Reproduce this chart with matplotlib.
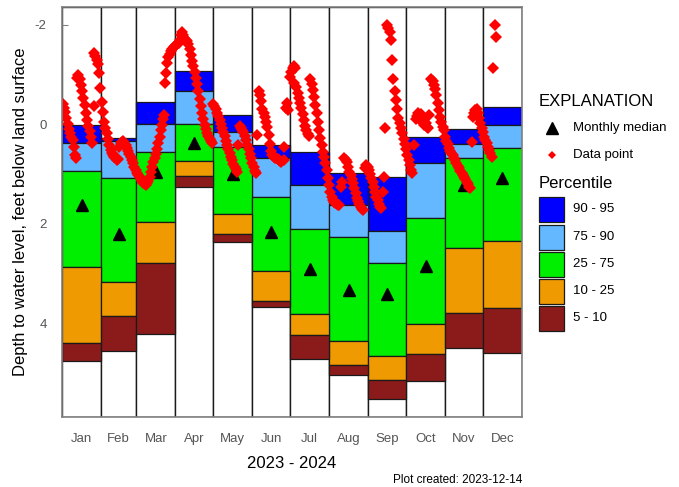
import matplotlib.pyplot as plt
import numpy as np

plt.rcParams['font.family'] = ['Liberation Sans', 'DejaVu Sans']

months = ['Jan', 'Feb', 'Mar', 'Apr', 'May', 'Jun',
          'Jul', 'Aug', 'Sep', 'Oct', 'Nov', 'Dec']
month_days = [31, 28, 31, 30, 31, 30, 31, 31, 30, 31, 30, 31]

# percentiles of depth (feet below land surface) per month
p95 = [0.02, 0.27, -0.44, -1.07, -0.18, 0.42, 0.55, 0.97, 1.05, 0.25, 0.09, -0.35]
p90 = [0.37, 0.33, 0.00, -0.67, 0.16, 0.67, 1.22, 1.62, 2.14, 0.77, 0.39, 0.02]
p75 = [0.93, 1.07, 0.56, -0.01, 0.45, 1.46, 2.10, 2.26, 2.78, 1.89, 0.68, 0.47]
p25 = [2.87, 3.16, 1.97, 0.74, 1.81, 2.94, 3.80, 4.35, 4.65, 4.00, 2.49, 2.34]
p10 = [4.40, 3.85, 2.78, 1.03, 2.20, 3.55, 4.24, 4.84, 5.14, 4.62, 3.78, 3.69]
p5 = [4.75, 4.56, 4.20, 1.26, 2.36, 3.67, 4.72, 5.03, 5.51, 5.16, 4.50, 4.59]
median = [1.62, 2.20, 0.95, 0.37, 1.00, 2.16, 2.91, 3.32, 3.41, 2.84, 1.22, 1.08]

# measured points: day of year, depth
point_day = [
    0.5, 1.5, 2.5, 3.5, 4.5, 5.5, 6.5, 7.5, 8.5, 9.5, 10.5, 11.2,
    12, 13, 14, 15, 16, 17, 18, 19, 20, 21, 22, 23, 24, 25,
    25.5, 26.5, 27.5, 28.5, 29.5, 30.5, 31.5, 32.5, 33.5, 34.5, 35.5, 36.5,
    37.5, 38.5, 39.5, 40.5, 41.5, 42.5, 43.5, 44.5,
    45.5, 46.5, 47.5, 48.5, 49.5, 50.5, 51.5, 52.5, 53.5, 54.5, 55.5, 56.5,
    57.5, 58.5, 59.5, 60.5, 61.5, 62.5, 63.5, 64.5, 65.5, 66.5, 67.5, 68.5,
    69.5, 70.5, 71.5, 72.5, 73.5, 74.5, 75.5, 76.5, 77.5, 78.5, 79.5, 80.5, 81.2,
    81.8, 82.6, 83.4, 84.5, 85.5, 86.5, 87.5, 88.5, 89.5, 90.5, 91.5, 92.5,
    93.5, 94.5, 95.3, 96.2, 97.2, 98.2, 99.2, 100.2, 101.2, 102.2, 103.2,
    104.2, 105.2, 106.2, 107.2, 108.2, 109.2, 110.2, 111.2, 112.2, 113.2,
    114.2, 115.2, 116.2, 117.2, 118.2, 119.2,
    120.2, 121, 122, 123, 124, 125, 126, 127, 128, 129, 130, 131, 132, 133,
    134, 135, 136, 137, 138, 138.8,
    139.5, 141, 142, 143, 144, 145, 146, 147, 148, 149, 150, 151, 152, 153,
    154, 155,
    156, 157, 158, 159, 160, 161, 162, 163, 164, 165, 166, 167, 168, 169,
    170, 171, 172, 173, 174, 175.8, 176.5,
    177.5, 178.5, 179.5, 181, 182, 183, 183.7, 184, 185, 186, 187, 188, 189,
    190, 191, 192, 193, 194, 195, 196,
    197, 198, 199, 200, 201, 202, 203, 204, 205, 206, 207, 208, 209, 210,
    211, 212, 213, 214, 215, 216, 217, 218, 219, 220, 221.5, 222.5,
    224, 225, 226, 227, 228, 229, 230, 231, 232, 233, 234, 235, 236, 237,
    238, 239,
    240.5, 241.5, 242.5, 243.5, 244.5, 245.5, 246.5, 247.5, 248.5, 249.5,
    250.5, 251.5, 252.5, 253.3, 254.5, 255.5, 256.5,
    258, 259, 260, 261, 262, 263, 264, 265, 266, 267, 268, 269, 270, 271,
    272, 273, 274, 275, 276, 277, 278, 279.3,
    280.5, 281.5, 282.5, 283.5, 284.5, 285.5, 286.5, 287.5, 288.5, 289.5,
    290.5, 291.5,
    293, 294, 295, 296, 297, 298, 299, 300, 301, 302, 303, 304, 305, 306,
    307, 308, 309, 310, 311, 312, 313, 314, 315, 316, 317, 318, 319, 320,
    321, 322, 323, 324,
    325.4, 326, 327, 328, 329, 330, 331, 332, 333, 334, 335, 336, 337, 338,
    339, 340, 341,
    342.3, 343.3, 344.4,
]
point_depth = [
    -0.40, -0.33, -0.25, -0.12, 0.00, 0.10, 0.18, 0.25, 0.32, 0.45, 0.62, 0.68,
    -0.93, -0.98, -0.90, -0.78, -0.66, -0.52, -0.38, -0.22, -0.08, 0.04, 0.14,
    0.26, 0.38, -0.36,
    -1.43, -1.38, -1.30, -1.20, -1.02, -0.72, -0.45, -0.24, -0.04, 0.08, 0.18,
    0.30, 0.42, 0.52, 0.58, 0.62, 0.65, 0.68, 0.72, 0.70,
    0.45, 0.38, 0.35, 0.34, 0.38, 0.42, 0.47, 0.53, 0.59, 0.65, 0.72, 0.78,
    0.85, 0.92, 0.97, 1.01, 1.05, 1.09, 1.13, 1.17, 1.20, 1.21, 1.18, 1.13,
    1.05, 0.96, 0.86, 0.76, 0.68, 0.60, 0.50, 0.38, 0.25, 0.12, 0.02, -0.10,
    -0.18,
    -0.83, -1.03, -1.22, -1.35, -1.42, -1.47, -1.52, -1.55, -1.57, -1.59,
    -1.61, -1.64, -1.70, -1.80, -1.85, -1.79, -1.73, -1.70, -1.68, -1.62,
    -1.52, -1.40, -1.28, -1.16, -1.04, -0.92, -0.80, -0.66, -0.50, -0.36,
    -0.22, -0.10, 0.02, 0.10, 0.17, 0.23, 0.29, 0.34, 0.38,
    -0.40, -0.36, -0.30, -0.22, -0.16, -0.08, 0.00, 0.08, 0.16, 0.24, 0.33,
    0.42, 0.50, 0.58, 0.65, 0.72, 0.79, 0.85, 0.90, 0.95,
    0.41, 0.04, 0.07, 0.11, 0.16, 0.24, 0.32, 0.41, 0.50, 0.59, 0.68, 0.77,
    0.86, 0.93, 0.98, 0.21,
    -0.66, -0.58, -0.46, -0.30, -0.22, -0.14, -0.04, 0.06, 0.22, 0.40, 0.54,
    0.62, 0.65, 0.67, 0.68, 0.70, 0.71, 0.73, 0.75, 0.45, 0.72,
    -0.32, -0.43, -0.28, -0.95, -1.05, -1.12, -0.83, -1.16, -1.12, -0.75,
    -0.62, -0.52, -0.42, -0.32, -0.20, -0.08, 0.04, 0.12, 0.20, 0.24,
    -0.90, -0.80, -0.68, -0.55, -0.38, -0.22, -0.05, 0.11, 0.28, 0.42, 0.55,
    0.66, 0.78, 0.92, 1.08, 1.22, 1.35, 1.45, 1.52, 1.56, 1.58, 1.60, 1.62,
    1.62, 1.25, 1.15,
    0.68, 0.72, 0.76, 0.85, 0.95, 1.02, 1.10, 1.18, 1.28, 1.38, 1.48, 1.55,
    1.60, 1.66, 1.70, 1.72,
    0.88, 0.82, 0.85, 0.92, 1.00, 1.08, 1.16, 1.26, 1.36, 1.45, 1.53, 1.60,
    1.66, 1.69, 1.35, 1.06, 0.08,
    -2.00, -1.93, -1.86, -1.69, -1.30, -0.90, -0.66, -0.49, -0.30, -0.13,
    -0.02, 0.08, 0.18, 0.30, 0.40, 0.50, 0.62, 0.72, 0.82, 0.92, 0.98, 0.41,
    -0.10, -0.16, -0.22, -0.12, -0.20, -0.05, -0.12, 0.02, -0.02, 0.06, 0.08,
    -0.19,
    -0.90, -0.86, -0.78, -0.70, -0.58, -0.42, -0.28, -0.15, -0.05, 0.05, 0.12,
    0.25, 0.33, 0.40, 0.48, 0.53, 0.58, 0.62, 0.67, 0.72, 0.78, 0.84, 0.88,
    0.93, 0.98, 1.02, 1.06, 1.10, 1.15, 1.20, 1.25, 1.28,
    0.35, -0.15, -0.23, -0.28, -0.30, -0.22, -0.12, -0.02, 0.08, 0.16, 0.25,
    0.32, 0.38, 0.45, 0.52, 0.58, 0.65,
    -1.13, -2.00, -1.75,
]

band_colors = ['#0000FF', '#63B8FF', '#00EE00', '#EE9A00', '#8B1A1A']
band_labels = ['90 - 95', '75 - 90', '25 - 75', '10 - 25', '5 - 10']

y_top, y_bot = -2.36, 5.87
edge = '#1a1a1a'

fig = plt.figure(figsize=(6.79, 4.87), dpi=100)
ax = fig.add_axes([62 / 679, 1 - 416.7 / 487, 460 / 679, 410 / 487])

starts = np.concatenate([[0], np.cumsum(month_days)[:-1]])
centers = starts + np.array(month_days) / 2

# white column for every month
ax.bar(starts, y_bot - y_top, width=month_days, bottom=y_top, align='edge',
       color='white', edgecolor=edge, linewidth=1, zorder=1)

bounds = [p95, p90, p75, p25, p10, p5]
for k in range(5):
    lo = np.array(bounds[k])
    hi = np.array(bounds[k + 1])
    ax.bar(starts, hi - lo, width=month_days, bottom=lo, align='edge',
           color=band_colors[k], edgecolor=edge, linewidth=0.9, zorder=2)

ax.plot(centers, median, linestyle='none', marker='^', color='black',
        markersize=8, zorder=3)
ax.plot(point_day, point_depth, linestyle='none', marker='D', color='red',
        markersize=5.8, markeredgewidth=0, zorder=4)

ax.set_xlim(0, 365)
ax.set_ylim(y_bot, y_top)
ax.set_yticks([-2, 0, 2, 4])
ax.set_yticklabels(['-2', '0', '2', '4'])
ax.set_xticks(centers)
ax.set_xticklabels(months)
ax.tick_params(axis='y', direction='in', length=4, colors='#808080',
               labelcolor='#555555', labelsize=9.5, pad=11)
ax.tick_params(axis='x', length=0, labelcolor='#555555', labelsize=9.5, pad=12)
for s in ax.spines.values():
    s.set_color('#808080')
    s.set_linewidth(1.2)
    s.set_zorder(5)

ax.set_ylabel('Depth to water level, feet below land surface', fontsize=12,
              labelpad=5)
ax.set_xlabel('2023 - 2024', fontsize=12, labelpad=8)

# explanation panel, drawn in pixel coordinates
leg = fig.add_axes([0, 0, 1, 1])
leg.set_xlim(0, 679)
leg.set_ylim(487, 0)
leg.axis('off')
leg.patch.set_visible(False)

leg.text(539, 101, 'EXPLANATION', fontsize=12, va='center', ha='left')
leg.plot([552], [128], marker='^', color='black', markersize=8)
leg.text(573, 128, 'Monthly median', fontsize=9.5, va='center', ha='left')
leg.plot([552], [155], marker='D', color='red', markersize=4.5, markeredgewidth=0)
leg.text(573, 155, 'Data point', fontsize=9.5, va='center', ha='left')
leg.text(539, 184, 'Percentile', fontsize=12, va='center', ha='left')

box_tops = [197, 224.5, 251.5, 278.5, 305.5]
for k in range(5):
    leg.add_patch(plt.Rectangle((539, box_tops[k]), 25, 25,
                                facecolor=band_colors[k], edgecolor=edge,
                                linewidth=0.9))
    leg.text(573, box_tops[k] + 12.5, band_labels[k], fontsize=9.5,
             va='center', ha='left')

leg.text(522, 480, 'Plot created: 2023-12-14', fontsize=8.5, va='center',
         ha='right')

fig.savefig('out.png', dpi=100)
